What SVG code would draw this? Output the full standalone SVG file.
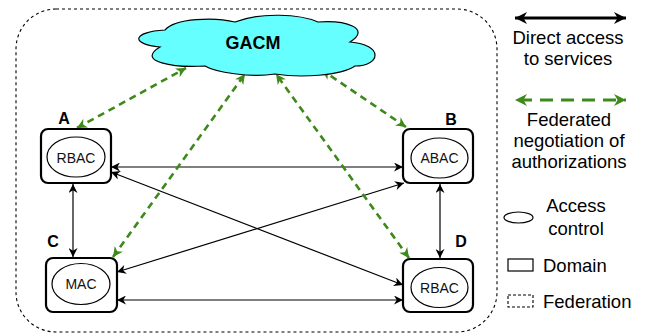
<svg xmlns="http://www.w3.org/2000/svg" width="646" height="333" viewBox="0 0 646 333">
<style>
.box{fill:#fff;stroke:#000;stroke-width:2.2}
.ac{fill:#fff;stroke:#000;stroke-width:1.2}
.lbl{font-family:"Liberation Sans",Arial,sans-serif;font-size:14px;fill:#111;text-anchor:middle}
.let{font-family:"Liberation Sans",Arial,sans-serif;font-size:16px;font-weight:bold;fill:#000;text-anchor:middle}
.leg{font-family:"Liberation Sans",Arial,sans-serif;font-size:18.5px;fill:#000}
.blk{stroke:#000;stroke-width:1.2;fill:none;marker-start:url(#ab);marker-end:url(#ab)}
.grn{stroke:#3d8a1a;stroke-width:2.6;fill:none;stroke-dasharray:7,5;marker-start:url(#ag);marker-end:url(#ag)}
</style>
<defs>
<marker id="ab" viewBox="0 0 10 10" refX="10" refY="5" markerWidth="11" markerHeight="9" markerUnits="userSpaceOnUse" orient="auto-start-reverse">
<path d="M0,0 L10,5 L0,10 L3,5 Z" fill="#000"/>
</marker>
<marker id="ag" viewBox="0 0 10 10" refX="10" refY="5" markerWidth="11" markerHeight="10" markerUnits="userSpaceOnUse" orient="auto-start-reverse">
<path d="M0,0 L10,5 L0,10 L3,5 Z" fill="#3d8a1a"/>
</marker>
<marker id="abL" viewBox="0 0 10 10" refX="10" refY="5" markerWidth="16" markerHeight="12" markerUnits="userSpaceOnUse" orient="auto-start-reverse">
<path d="M0,0 L10,5 L0,10 L3,5 Z" fill="#000"/>
</marker>
<marker id="agL" viewBox="0 0 10 10" refX="10" refY="5" markerWidth="16" markerHeight="12" markerUnits="userSpaceOnUse" orient="auto-start-reverse">
<path d="M0,0 L10,5 L0,10 L3,5 Z" fill="#3d8a1a"/>
</marker>
</defs>

<g id="federation">
<rect x="16" y="9" width="481" height="323" rx="40" ry="40" fill="none" stroke="#000" stroke-width="1.1" stroke-dasharray="3,3"/>
</g>

<g id="connectors">
<line class="blk" x1="111" y1="167" x2="403" y2="167"/>
<line class="blk" x1="117" y1="300" x2="403" y2="300"/>
<line class="blk" x1="111" y1="172" x2="403" y2="285"/>
<line class="blk" x1="117" y1="272" x2="404" y2="183"/>
<line class="blk" x1="73" y1="184" x2="73" y2="257"/>
<line class="blk" x1="440" y1="184" x2="440" y2="258"/>
<line class="grn" x1="77" y1="128" x2="186" y2="68"/>
<line class="grn" x1="113" y1="257" x2="245" y2="74"/>
<line class="grn" x1="409" y1="258" x2="276" y2="74"/>
<line class="grn" x1="406" y1="127" x2="322" y2="70"/>
</g>

<g id="gacm">
<path d="M160,47 C130,44 132,32 165,30 C175,18 215,17 235,22 C260,12 300,14 318,22 C345,20 372,28 350,42 C385,45 380,66 355,66 C340,76 300,78 275,74 C250,78 215,72 205,66 C175,68 135,62 160,47 Z" fill="#66ffff" stroke="#000" stroke-width="1.2"/>
<text x="253" y="49" font-family="'Liberation Sans',Arial,sans-serif" font-size="18" font-weight="bold" text-anchor="middle">GACM</text>
</g>

<g id="nodeA">
<rect class="box" x="41" y="129" width="70" height="54" rx="7"/>
<ellipse class="ac" cx="76" cy="157" rx="29" ry="20"/>
<text class="lbl" x="76" y="163">RBAC</text>
<text class="let" x="64" y="124">A</text>
</g>
<g id="nodeB">
<rect class="box" x="403" y="129" width="70" height="54" rx="7"/>
<ellipse class="ac" cx="439.5" cy="158" rx="28.5" ry="20"/>
<text class="lbl" x="439.5" y="163">ABAC</text>
<text class="let" x="451" y="125">B</text>
</g>
<g id="nodeC">
<rect class="box" x="46" y="258" width="71" height="54" rx="7"/>
<ellipse class="ac" cx="81" cy="284" rx="29" ry="20.5"/>
<text class="lbl" x="81" y="289">MAC</text>
<text class="let" x="53" y="247">C</text>
</g>
<g id="nodeD">
<rect class="box" x="403" y="259" width="70" height="53" rx="7"/>
<ellipse class="ac" cx="439.5" cy="287.5" rx="28.5" ry="20"/>
<text class="lbl" x="439.5" y="293">RBAC</text>
<text class="let" x="461" y="247">D</text>
</g>

<g id="legend">
<line x1="515" y1="18" x2="626" y2="18" stroke="#000" stroke-width="3" marker-start="url(#abL)" marker-end="url(#abL)"/>
<text class="leg" x="568" y="44" text-anchor="middle">Direct access</text>
<text class="leg" x="568" y="65" text-anchor="middle">to services</text>
<line x1="515" y1="100" x2="626" y2="100" stroke="#3d8a1a" stroke-width="3" stroke-dasharray="13,8" stroke-dashoffset="-4" marker-start="url(#agL)" marker-end="url(#agL)"/>
<text class="leg" x="569" y="126" text-anchor="middle">Federated</text>
<text class="leg" x="569" y="147" text-anchor="middle">negotiation of</text>
<text class="leg" x="569" y="168" text-anchor="middle">authorizations</text>
<ellipse cx="518.5" cy="217.5" rx="14.5" ry="5.5" fill="#fff" stroke="#000" stroke-width="1.2"/>
<text class="leg" x="576" y="212" text-anchor="middle">Access</text>
<text class="leg" x="576" y="235" text-anchor="middle">control</text>
<rect x="508" y="259" width="25" height="12" fill="#fff" stroke="#000" stroke-width="1.2"/>
<text class="leg" x="543" y="272">Domain</text>
<rect x="508" y="295" width="25" height="12" fill="none" stroke="#000" stroke-width="1.1" stroke-dasharray="3,2"/>
<text class="leg" x="543" y="308">Federation</text>
</g>
</svg>
